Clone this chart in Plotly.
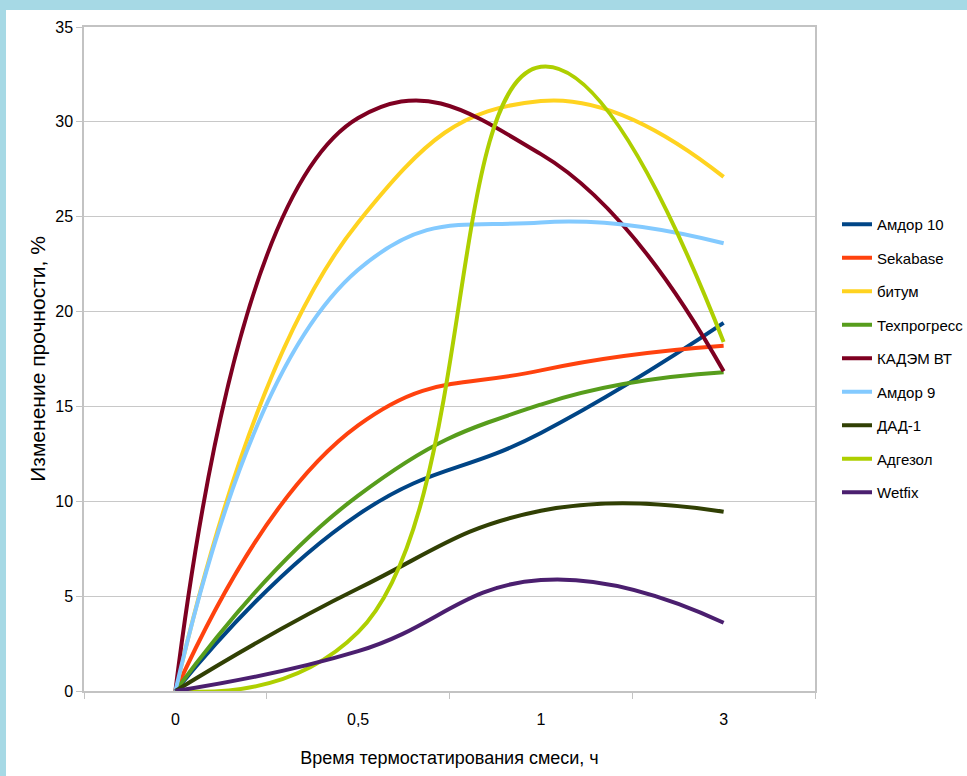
import plotly.graph_objects as go

# ---- data ----
categories = ["0", "0,5", "1", "3"]

amdor10 = [0, 9.3, 13.6, 19.4]
sekabase = [0, 14.0, 16.9, 18.2]
bitum = [0, 24.7, 31.1, 27.1]
tehprogress = [0, 10.3, 15.1, 16.8]
kadem_vt = [0, 30.2, 28.3, 16.85]
amdor9 = [0, 22.2, 24.7, 23.6]
dad1 = [0, 5.4, 9.5, 9.45]
adgezol = [0, 3.1, 32.9, 18.4]
wetfix = [0, 2.1, 5.85, 3.6]

series_names = ["Амдор 10", "Sekabase", "битум", "Техпрогресс", "КАДЭМ ВТ",
                "Амдор 9", "ДАД-1", "Адгезол", "Wetfix"]
series_values = [amdor10, sekabase, bitum, tehprogress, kadem_vt,
                 amdor9, dad1, adgezol, wetfix]
series_colors = ["#004586", "#ff420e", "#ffd320", "#579d1c", "#7e0021",
                 "#83caff", "#314004", "#aecf00", "#4b1f6f"]

y_ticks = [0, 5, 10, 15, 20, 25, 30, 35]

FONT = "Liberation Sans, Arial, sans-serif"

fig = go.Figure()
for i, (name, vals, col) in enumerate(zip(series_names, series_values, series_colors)):
    fig.add_trace(go.Scatter(
        x=categories, y=vals, name=name, mode="lines",
        line=dict(color=col, width=4, shape="spline", smoothing=1.3),
        legendgroup=f"g{i}",
    ))

# plot area in pixels: left 84, right 815, top 27, bottom 691
W, H = 967, 776
L, R, T, B = 84, 815, 27, 691
pw, ph = R - L, B - T

def px_x(px):
    return (px - L) / pw

def px_y(py):
    return (B - py) / ph

fig.update_layout(
    width=W, height=H,
    margin=dict(l=L, r=W - R, t=T, b=H - B, pad=0, autoexpand=False),
    paper_bgcolor="#a6d9e5",
    plot_bgcolor="#ffffff",
    font=dict(family=FONT, size=15, color="#000000"),
    showlegend=True,
    legend=dict(
        x=px_x(837), y=px_y(208), xanchor="left", yanchor="top",
        bgcolor="rgba(0,0,0,0)", borderwidth=0,
        font=dict(family=FONT, size=15, color="#000000"),
        tracegroupgap=11, itemwidth=30,
    ),
    shapes=[dict(
        type="rect", xref="paper", yref="paper", layer="below",
        x0=px_x(6), x1=px_x(W + 5), y0=px_y(H + 5), y1=px_y(10),
        fillcolor="#ffffff", line=dict(width=0),
    )],
)

fig.update_xaxes(
    type="category", range=[-0.5, 3.5], automargin=False,
    showgrid=False, showline=True, linecolor="#c3c3c3", linewidth=1.5,
    mirror=True, ticks="outside", tickson="boundaries", ticklen=6,
    tickcolor="#c3c3c3", tickwidth=1,
    tickfont=dict(family=FONT, size=16, color="#000000"),
    ticklabelstandoff=13,
    title=dict(text="Время термостатирования смеси, ч",
               font=dict(family=FONT, size=18, color="#000000"), standoff=24),
    zeroline=False, fixedrange=True,
)
fig.update_yaxes(
    range=[0, 35], automargin=False,
    tickvals=y_ticks, ticktext=[str(v) for v in y_ticks],
    showgrid=True, gridcolor="#c8c8c8", gridwidth=1,
    showline=True, linecolor="#c3c3c3", linewidth=1.5, mirror=True,
    ticks="outside", ticklen=6, tickcolor="#c3c3c3",
    tickfont=dict(family=FONT, size=16, color="#000000"),
    title=dict(text="Изменение прочности, %",
               font=dict(family=FONT, size=21, color="#000000"), standoff=4),
    zeroline=False, fixedrange=True,
)

fig.write_html(
    "out.html",
    config={"displayModeBar": False},
    post_script="document.body.style.margin='0';document.body.style.overflow='hidden';",
)
